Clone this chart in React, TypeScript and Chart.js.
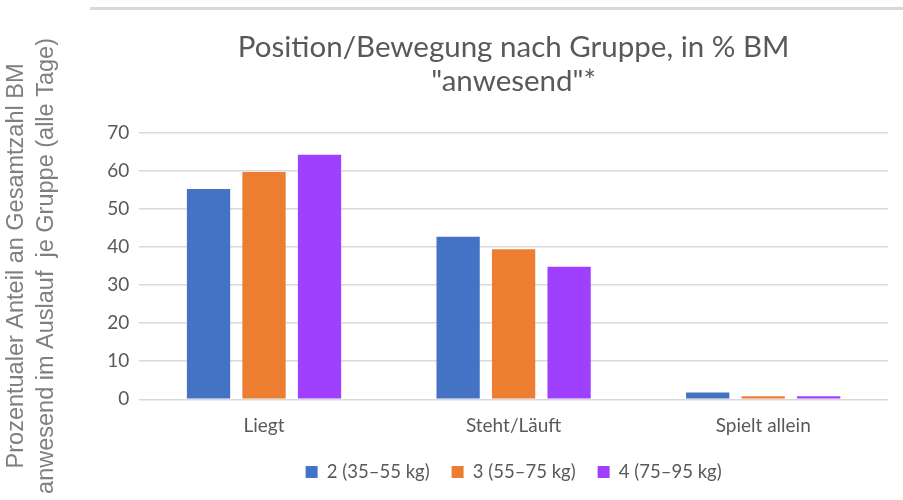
import React, { useEffect, useRef } from "react";
import { Chart, registerables } from "chart.js";

Chart.register(...registerables);

const categories = ["Liegt", "Steht/Läuft", "Spielt allein"];
const seriesNames = ["2 (35–55 kg)", "3 (55–75 kg)", "4 (75–95 kg)"];
const group2 = [55.2, 42.7, 1.8];
const group3 = [59.7, 39.4, 0.8];
const group4 = [64.2, 34.8, 0.8];
const seriesColors = ["#4472C4", "#ED7D31", "#A040FF"];
const yTicks = [0, 10, 20, 30, 40, 50, 60, 70];
const titleLines = ["Position/Bewegung nach Gruppe, in % BM", '"anwesend"*'];
const yTitleLines = [
  "Prozentualer Anteil an Gesamtzahl BM",
  "anwesend im Auslauf  je Gruppe (alle Tage)",
];

const CAL = "Lato, 'Open Sans', sans-serif";
const TXT = "#595959";

export default function App() {
  const ref = useRef<HTMLCanvasElement | null>(null);
  useEffect(() => {
    if (!ref.current) return;
    const values = [group2, group3, group4];
    const chart = new Chart(ref.current, {
      type: "bar",
      data: {
        labels: categories,
        datasets: seriesNames.map((name, i) => ({
          label: name,
          data: values[i],
          backgroundColor: seriesColors[i],
          borderWidth: 0,
          categoryPercentage: 0.667,
          barPercentage: 0.78,
        })),
      },
      options: {
        animation: false,
        responsive: false,
        maintainAspectRatio: false,
        layout: { padding: { left: 0, right: 15, top: 0, bottom: 8.7 } },
        plugins: {
          title: {
            display: true,
            text: titleLines,
            fullSize: false,
            color: TXT,
            font: { family: CAL, size: 29.5, weight: "normal", lineHeight: 1.15 },
            padding: { top: 31, bottom: 33.8 },
          },
          legend: {
            position: "bottom",
            fullSize: false,
            labels: {
              color: TXT,
              boxWidth: 12,
              boxHeight: 12,
              padding: 22,
              font: { family: CAL, size: 18.5 },
            },
          },
          tooltip: { enabled: false },
        },
        scales: {
          x: {
            grid: { display: false, drawTicks: false },
            border: { display: false },
            ticks: {
              color: TXT,
              padding: 15.3,
              font: { family: CAL, size: 19 },
            },
            afterFit: (scale: any) => {
              scale.height = 41.5;
            },
          },
          y: {
            min: 0,
            max: 70,
            afterBuildTicks: (axis: any) => {
              axis.ticks = yTicks.map((v) => ({ value: v }));
            },
            grid: { color: "#D9D9D9", lineWidth: 1.5, drawTicks: false },
            border: { display: false },
            ticks: {
              color: TXT,
              padding: 10,
              font: { family: CAL, size: 19 },
            },
            title: {
              display: true,
              text: yTitleLines,
              color: "#7F7F7F",
              font: { family: "'Liberation Sans', Arial, sans-serif", size: 23.5, lineHeight: 1.27 },
              padding: { top: 1.5, bottom: 36 },
            },
          },
        },
      },
    });
    return () => chart.destroy();
  }, []);
  return (
    <div style={{ position: "fixed", left: 0, top: 0, width: 903, height: 500, background: "#fff" }}>
      <div style={{ position: "absolute", left: 90, top: 7, width: 813, height: 3, background: "#D9D9D9" }} />
      <canvas ref={ref} width={903} height={500} style={{ position: "absolute", left: 0, top: 0 }} />
    </div>
  );
}
